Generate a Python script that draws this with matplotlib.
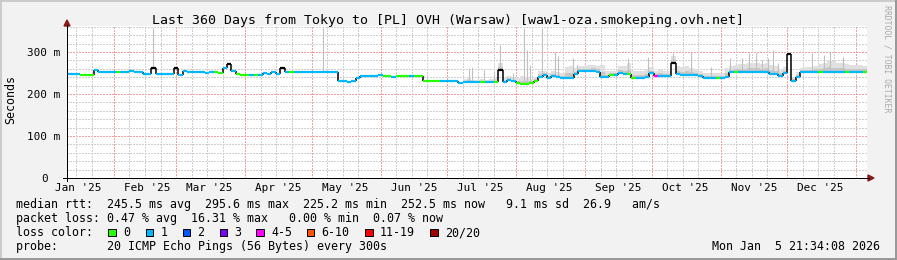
import numpy as np
import matplotlib.pyplot as plt
from matplotlib.patches import Rectangle, Polygon
from matplotlib.lines import Line2D

plt.rcParams['font.family'] = ['DejaVu Sans Mono']

# ---- data (days counted from 2025-01-01, 2-day bins) ----
START = 9.9          # first bin starts Jan 10 2025 21:34
STEP = 2.0
END = 369.9          # Jan 5 2026 21:34

median = [  # ms
    248, 248, 247, 245, 245, 245, 258, 253, 252, 252,
    252, 252, 252, 252, 254, 252, 252, 247, 247, 263,
    247, 247, 247, 247, 263, 246, 254, 252, 252, 252,
    253, 251, 252, 252, 251, 262, 272, 256, 248, 246,
    245, 245, 245, 246, 250, 248, 252, 248, 262, 252,
    252, 252, 252, 252, 252, 253, 253, 252, 253, 253,
    253, 232, 232, 229, 230, 238, 243, 243, 243, 243,
    245, 243, 243, 240, 243, 243, 243, 243, 243, 243,
    232, 232, 232, 232, 232, 232, 232, 232, 226, 228,
    228, 228, 228, 228, 228, 228, 228, 258, 228, 234,
    230, 226, 225, 225, 226, 232, 241, 245, 239, 242,
    241, 239, 239, 239, 247, 255, 255, 255, 255, 253,
    241, 240, 245, 245, 249, 247, 248, 239, 239, 239,
    241, 250, 244, 244, 244, 244, 275, 248, 245, 246,
    245, 245, 242, 239, 239, 239, 239, 239, 241, 252,
    253, 253, 253, 253, 253, 253, 253, 253, 248, 247,
    244, 250, 296, 232, 240, 253, 252, 252, 253, 253,
    253, 253, 253, 253, 253, 253, 253, 253, 253, 253,
]

loss = [  # lost pings out of 20
    1, 1, 1, 0, 0, 0, 1, 1, 1, 1,
    1, 0, 1, 1, 1, 1, 1, 1, 1, 1,
    1, 1, 1, 1, 1, 1, 1, 1, 1, 1,
    1, 1, 1, 0, 0, 1, 1, 1, 0, 0,
    0, 1, 0, 1, 1, 1, 1, 1, 0, 1,
    0, 1, 1, 1, 1, 1, 1, 1, 1, 1,
    1, 1, 1, 1, 1, 1, 1, 1, 1, 1,
    1, 0, 0, 1, 0, 0, 0, 1, 0, 0,
    0, 0, 0, 0, 1, 1, 1, 1, 1, 1,
    1, 1, 1, 0, 1, 1, 0, 1, 1, 1,
    1, 0, 0, 0, 0, 0, 1, 1, 1, 1,
    1, 1, 1, 1, 1, 1, 1, 1, 1, 1,
    1, 1, 0, 1, 1, 1, 0, 0, 1, 1,
    1, 1, 4, 1, 1, 1, 1, 1, 1, 1,
    1, 1, 1, 1, 1, 1, 0, 1, 1, 1,
    0, 1, 1, 1, 1, 1, 1, 1, 1, 1,
    1, 1, 1, 1, 1, 1, 1, 1, 1, 0,
    1, 1, 1, 1, 1, 0, 1, 1, 1, 0,
]

spread = [  # height of the smoke above the median, ms
    0, 0, 0, 0, 0, 0, 0, 0, 0, 0,
    0, 0, 0, 0, 0, 0, 0, 0, 0, 0,
    0, 0, 0, 0, 0, 0, 0, 0, 0, 0,
    0, 0, 0, 0, 0, 0, 0, 0, 0, 0,
    0, 0, 0, 0, 0, 0, 0, 0, 0, 0,
    0, 0, 0, 0, 0, 0, 0, 0, 0, 0,
    0, 0, 0, 0, 0, 0, 0, 0, 0, 0,
    0, 0, 0, 0, 0, 0, 0, 0, 0, 0,
    0, 0, 0, 0, 0, 0, 0, 0, 3, 8,
    12, 6, 5, 8, 6, 8, 10, 15, 10, 8,
    8, 12, 18, 15, 10, 8, 15, 10, 12, 14,
    12, 12, 25, 28, 15, 12, 12, 14, 15, 14,
    28, 15, 10, 10, 18, 20, 25, 15, 15, 15,
    18, 14, 12, 14, 12, 12, 15, 18, 20, 20,
    18, 15, 12, 10, 10, 12, 10, 12, 20, 15,
    15, 18, 18, 20, 22, 20, 18, 20, 22, 20,
    14, 15, 5, 8, 12, 10, 12, 12, 14, 18,
    20, 28, 25, 20, 20, 18, 16, 15, 15, 14,
]

spike_day = [48.6, 125.1, 190.8, 192.2, 197.6, 202.1, 204.8, 210.6, 215.6,
             216.9, 218.3, 223.7, 229.5, 230.9, 237.6, 239.4, 262.4, 271.4,
             282.6, 290.7, 299.7, 308.3, 313.7, 316.8, 320.0, 322.7, 325.4,
             327.6, 329.9, 345.2, 350.6, 353.3, 359.1]
spike_top = [357, 357, 261, 265, 258, 255, 317, 250, 357,
             305, 270, 357, 300, 290, 286, 270, 285, 289,
             297, 301, 265, 285, 285, 297, 297, 280, 285,
             305, 275, 297, 292, 301, 288]

months = ["Jan", "Feb", "Mar", "Apr", "May", "Jun",
          "Jul", "Aug", "Sep", "Oct", "Nov", "Dec"]
month_start = [0, 31, 59, 90, 120, 151, 181, 212, 243, 273, 304, 334, 365]

legend_labels = ["0", "1", "2", "3", "4-5", "6-10", "11-19", "20/20"]
legend_colors = ["#26ff00", "#00b8ff", "#0059ff", "#7e00ff",
                 "#ff00ff", "#ff5500", "#ff0000", "#a10000"]


def loss_color(n):
    if n == 0:
        return legend_colors[0]
    if n <= 3:
        return legend_colors[n]
    if n <= 5:
        return legend_colors[4]
    if n <= 10:
        return legend_colors[5]
    if n <= 19:
        return legend_colors[6]
    return legend_colors[7]


# ---- layout in pixels ----
W, H = 897, 260
PX0, PX1 = 67, 867
PY0, PY1 = 178, 26
YMAX = 362
MONO = 'DejaVu Sans Mono'


def fx(px):
    return px / W


def fy(py):
    return 1 - py / H


def xpix(day):
    return PX0 + (day - START) * (PX1 - PX0) / (END - START)


def ypix(v):
    return PY0 - v * (PY0 - PY1) / YMAX


fig = plt.figure(figsize=(W / 100, H / 100), dpi=100, facecolor='#f2f2f2')
ax = fig.add_axes([fx(PX0), fy(PY0), (PX1 - PX0) / W, (PY0 - PY1) / H])
ax.set_facecolor('white')
ax.set_xlim(START, END)
ax.set_ylim(0, YMAX)
ax.set_xticks([])
ax.set_yticks([])
for s in ax.spines.values():
    s.set_visible(False)

# grid, crisp 1px dots
dot = (0, (1.4, 1.4))
gkw = dict(lw=0.72, ls=dot, zorder=0, antialiased=False)
for v in range(20, 361, 20):
    if v % 100:
        ax.axhline(v, color='#cfcfcf', **gkw)
for v in (100, 200, 300):
    ax.axhline(v, color='#f2a0a0', **gkw)
for ms in month_start:
    for k in (7, 14, 21):
        d = ms + k
        if START < d < END:
            ax.axvline(d, color='#cfcfcf', **gkw)
for ms in month_start[1:]:
    ax.axvline(ms, color='#f2a0a0', **gkw)

# smoke
med = np.array(median, float)
spr = np.array(spread, float)
edges = START + STEP * np.arange(len(med) + 1)
edges[-1] = END
xs = np.repeat(edges, 2)[1:-1]
ax.fill_between(xs, np.repeat(med, 2), np.repeat(med + spr, 2),
                color='#e0e0e0', lw=0, zorder=1)
ax.fill_between(xs, np.repeat(med, 2), np.repeat(med + spr * 0.4, 2),
                color='#c6c6c6', lw=0, zorder=1)
idx = np.clip(((np.array(spike_day) - START) // STEP).astype(int), 0, len(med) - 1)
ax.vlines(spike_day, med[idx], spike_top, color='#c0c0c0', lw=0.8, zorder=2)

# median line coloured by loss, narrow peaks drawn dark like the dense smoke
seg_colors = []
for i, n in enumerate(loss):
    lo = med[i - 1] if i > 0 else med[i]
    hi = med[i + 1] if i < len(med) - 1 else med[i]
    if med[i] - max(lo, hi) > 6:
        seg_colors.append('black')
    else:
        seg_colors.append(loss_color(n))
ax.vlines(edges[1:-1], med[:-1], med[1:], color='black', lw=1.1, zorder=3)
ax.hlines(med, edges[:-1], edges[1:], colors=seg_colors, lw=1.6, zorder=4)

# axes with arrows
fig.add_artist(Line2D([fx(63), fx(869)], [fy(178), fy(178)], color='black',
                      lw=0.72, antialiased=False))
fig.add_artist(Line2D([fx(67), fx(67)], [fy(181), fy(25)], color='black',
                      lw=0.72, antialiased=False))
fig.add_artist(Polygon([(fx(64), fy(26)), (fx(70), fy(26)), (fx(67), fy(20))],
                       closed=True, color='#8b1a1a'))
fig.add_artist(Polygon([(fx(868), fy(175)), (fx(868), fy(181)), (fx(874), fy(178))],
                       closed=True, color='#8b1a1a'))

# tick labels
for v, lab in zip([100, 200, 300], ["100 m", "200 m", "300 m"]):
    fig.text(fx(60.5), fy(ypix(v) + 4), lab, ha='right', va='baseline',
             size=7.9, family=MONO)
fig.text(fx(47.5), fy(ypix(0) + 4), "0", ha='right', va='baseline',
         size=7.9, family=MONO)
for m, ms in zip(months, month_start):
    d = ms + 15
    if START < d < END:
        fig.text(fx(xpix(d)), fy(191), m + " '25", ha='center', va='baseline',
                 size=7.9, family=MONO)

# titles
fig.text(fx(448), fy(24), "Last 360 Days from Tokyo to [PL] OVH (Warsaw) "
         "[waw1-oza.smokeping.ovh.net]", ha='center', va='baseline',
         size=9.5, family=MONO)
fig.text(fx(11), fy(100), "Seconds", rotation=90, ha='center', va='center',
         size=8.4, family=MONO)
fig.text(fx(887), fy(5), "RRDTOOL / TOBI OETIKER", rotation=270, ha='center',
         va='top', size=5.9, family=MONO, color='#aaaaaa')

# legend block
rows = [
    "median rtt:  245.5 ms avg  295.6 ms max  225.2 ms min  252.5 ms now   "
    "9.1 ms sd  26.9   am/s",
    "packet loss: 0.47 % avg  16.31 % max   0.00 % min  0.07 % now",
    "loss color:",
    "probe:       20 ICMP Echo Pings (56 Bytes) every 300s",
]
for r, base in zip(rows, [208, 222, 236, 250]):
    fig.text(fx(16), fy(base), r, ha='left', va='baseline', size=8.4, family=MONO)

sq_x = [108, 145.5, 182.5, 219.5, 256, 306.5, 365, 430]
for x0, lab, c in zip(sq_x, legend_labels, legend_colors):
    fig.add_artist(Rectangle((fx(x0), fy(236)), 7.5 / W, 7.5 / H,
                             transform=fig.transFigure, facecolor=c,
                             edgecolor='black', lw=0.72))
    fig.text(fx(x0 + 15), fy(236), lab, ha='left', va='baseline',
             size=8.4, family=MONO)

fig.text(fx(880), fy(250), "Mon Jan  5 21:34:08 2026", ha='right',
         va='baseline', size=8.4, family=MONO)

# 3d frame
fig.add_artist(Rectangle((0, 1 - 2 / H), 1, 2 / H, transform=fig.transFigure,
                         color='#cbcbcb', lw=0))
fig.add_artist(Rectangle((0, 0), 2 / W, 1, transform=fig.transFigure,
                         color='#cbcbcb', lw=0))
fig.add_artist(Rectangle((0, 0), 1, 2 / H, transform=fig.transFigure,
                         color='#999999', lw=0))
fig.add_artist(Rectangle((1 - 2 / W, 0), 2 / W, 1, transform=fig.transFigure,
                         color='#999999', lw=0))

fig.savefig("out.png", dpi=100, facecolor=fig.get_facecolor())
